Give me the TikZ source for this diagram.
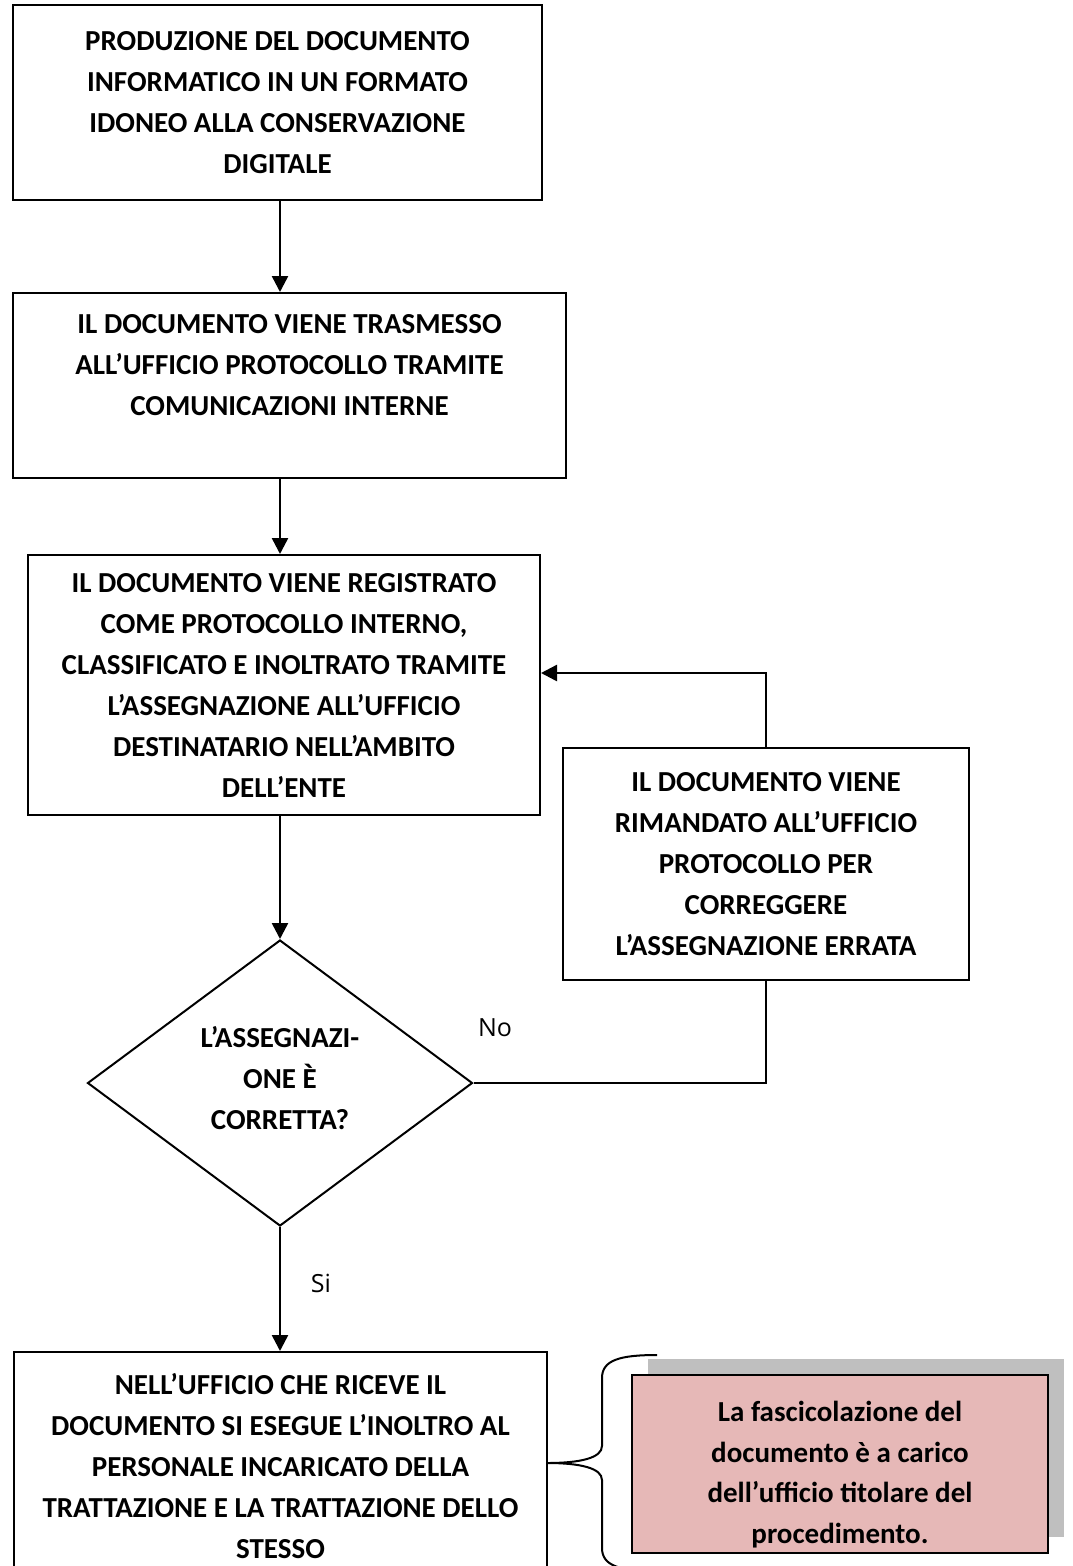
\documentclass[tikz,border=0pt]{standalone}
\usepackage{fontspec}
\setmainfont{Carlito}
\newfontfamily\labfont{Open Sans}
\usetikzlibrary{arrows.meta,shapes.geometric,shadows,calc}
\definecolor{pinkfill}{HTML}{E6B8B7}
\definecolor{shadowgray}{HTML}{BFBFBF}
\begin{document}
\begin{tikzpicture}[x=1pt,y=-1pt,
  box/.style={draw, line width=2pt, align=center, inner sep=0pt, font=\bfseries\fontsize{29}{41}\selectfont},
  arr/.style={line width=2.5pt, -{Triangle[length=16pt,width=16pt]}},
  lin/.style={line width=2.5pt},
  lab/.style={font=\labfont\fontsize{25}{30}\selectfont, inner sep=0pt}]
\useasboundingbox (0,0) rectangle (1072,1566);
\node[box, minimum width=529pt, minimum height=195pt] (b1) at (277.5,102.5)
  {PRODUZIONE DEL DOCUMENTO\\INFORMATICO IN UN FORMATO\\IDONEO ALLA CONSERVAZIONE\\DIGITALE};
\node[box, minimum width=553pt, minimum height=185pt] (b2) at (289.5,385.5)
  {IL DOCUMENTO VIENE TRASMESSO\\ALL’UFFICIO PROTOCOLLO TRAMITE\\COMUNICAZIONI INTERNE\\~};
\node[box, minimum width=512pt, minimum height=260pt] (b3) at (284,685)
  {IL DOCUMENTO VIENE REGISTRATO\\COME PROTOCOLLO INTERNO,\\CLASSIFICATO E INOLTRATO TRAMITE\\L’ASSEGNAZIONE ALL’UFFICIO\\DESTINATARIO NELL’AMBITO\\DELL’ENTE};
\node[box, minimum width=406pt, minimum height=232pt] (b4) at (766,864)
  {IL DOCUMENTO VIENE\\RIMANDATO ALL’UFFICIO\\PROTOCOLLO PER\\CORREGGERE\\L’ASSEGNAZIONE ERRATA};
\node[box, diamond, minimum width=385pt, minimum height=286pt] (d) at (280,1083)
  {L’ASSEGNAZI-\\ONE È\\CORRETTA?\rule[-10pt]{0pt}{10pt}};
\node[box, minimum width=533pt, minimum height=228pt] (b5) at (280.5,1466)
  {NELL’UFFICIO CHE RICEVE IL\\DOCUMENTO SI ESEGUE L’INOLTRO AL\\PERSONALE INCARICATO DELLA\\TRATTAZIONE E LA TRATTAZIONE DELLO\\STESSO};
\node[draw, line width=1.8pt, fill=pinkfill, align=center, inner sep=0pt,
  minimum width=416pt, minimum height=178pt,
  font=\bfseries\fontsize{29}{40.5}\selectfont,
  drop shadow={shadow xshift=16pt, shadow yshift=16pt, fill=shadowgray, opacity=1}] (p) at (840,1464)
  {\rule{0pt}{42pt}La fascicolazione del\\documento è a carico\\dell’ufficio titolare del\\procedimento.};
\coordinate (loopy) at (0,673);
\draw[arr] (b1.south -| d.north) -- (b2.north -| d.north);
\draw[arr] (b2.south -| d.north) -- (b3.north -| d.north);
\draw[arr] (b3.south -| d.north) -- (d.north);
\draw[arr] (d.south) -- (b5.north -| d.south);
\draw[arr] (b4.north) -- (b4.north |- loopy) -- (b3.east |- loopy);
\draw[lin] (b4.south) |- (d.east);
\node[lab] (no) at (495,1028) {No};
\node[lab] (si) at (321,1283) {Si};
\draw[line width=2pt] (657,1355) .. controls (620,1355) and (602,1360) .. (602,1378)
  -- (602,1446) .. controls (602,1458) and (580,1463) .. (547,1463)
  .. controls (580,1463) and (602,1468) .. (602,1480)
  -- (602,1548) .. controls (602,1566) and (620,1571) .. (657,1571);
\end{tikzpicture}
\end{document}
